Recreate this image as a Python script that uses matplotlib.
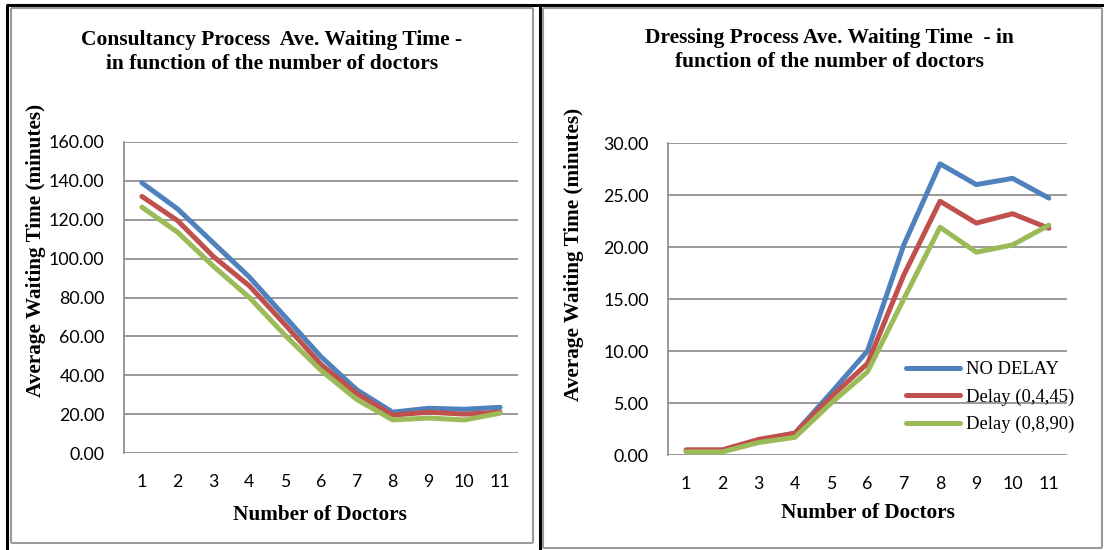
import matplotlib
matplotlib.use("Agg")
import matplotlib.pyplot as plt
from matplotlib.lines import Line2D

# number of doctors
doctors = [1, 2, 3, 4, 5, 6, 7, 8, 9, 10, 11]

# consultancy process ave. waiting time (minutes)
cons_no_delay = [139, 125.5, 108, 90.5, 70, 49.5, 32.5, 21, 23, 22.5, 23.5]
cons_delay_45 = [132, 119.5, 101, 86, 66, 45.5, 30.5, 19.5, 21, 20, 21]
cons_delay_90 = [126.5, 113.5, 96, 80, 60.5, 42.5, 27.5, 17, 18, 17, 20.5]

# dressing process ave. waiting time (minutes)
dress_no_delay = [0.4, 0.4, 1.4, 2.1, 6.0, 10.0, 20.2, 28.0, 26.0, 26.6, 24.7]
dress_delay_45 = [0.5, 0.5, 1.5, 2.1, 5.6, 8.8, 17.3, 24.4, 22.3, 23.2, 21.8]
dress_delay_90 = [0.3, 0.3, 1.2, 1.7, 5.0, 8.0, 15.0, 21.9, 19.5, 20.2, 22.1]

series_labels = ["NO DELAY", "Delay (0,4,45)", "Delay (0,8,90)"]
colors = ["#4F81BD", "#C0504D", "#9BBB59"]

W, H = 1104, 550
fig = plt.figure(figsize=(W / 100, H / 100), dpi=100)
fig.patch.set_facecolor("white")


def fx(px):
    return px / W


def fy(py):
    return 1 - py / H


def hline(x0, x1, y, color, lw):
    fig.add_artist(Line2D([fx(x0), fx(x1)], [fy(y), fy(y)], color=color, lw=lw,
                          transform=fig.transFigure, solid_capstyle="butt"))


def vline(x, y0, y1, color, lw):
    fig.add_artist(Line2D([fx(x), fx(x)], [fy(y0), fy(y1)], color=color, lw=lw,
                          transform=fig.transFigure, solid_capstyle="butt"))


# page frame (black) and chart borders (gray)
hline(6, 1104, 5, "black", 2.2)
vline(7, 5, 550, "black", 2.2)
vline(540, 5, 550, "black", 2.2)
gray = "#9a9a9a"
for (l, t, r, b) in [(11, 8, 533, 543), (543, 8, 1102, 548)]:
    hline(l, r, t, gray, 1.5)
    hline(l, r, b, gray, 1.5)
    vline(l, t, b, gray, 1.5)
    vline(r, t, b, gray, 1.5)

tick_font = "Lato"
serif = "Liberation Serif"


def make_axes(left, top, right, bottom, ymax, step, data):
    ax = fig.add_axes([fx(left), fy(bottom), fx(right - left), (bottom - top) / H])
    for vals, c, lab in zip(data, colors, series_labels):
        ax.plot(doctors, vals, color=c, lw=3.6, label=lab, solid_capstyle="round",
                solid_joinstyle="round", zorder=3)
    ax.set_xlim(0.5, 11.5)
    ax.set_ylim(0, ymax)
    ax.set_yticks([i * step for i in range(int(ymax / step) + 1)])
    ax.set_xticks(doctors)
    ax.yaxis.set_major_formatter(matplotlib.ticker.FormatStrFormatter("%.2f"))
    ax.grid(axis="y", color="#888888", lw=1.2)
    ax.set_axisbelow(True)
    for s in ["top", "right", "bottom"]:
        ax.spines[s].set_visible(False)
    ax.spines["left"].set_color("#888888")
    ax.spines["left"].set_linewidth(1.2)
    ax.tick_params(length=0)
    ax.tick_params(axis="y", pad=14)
    ax.tick_params(axis="x", pad=15)
    for lbl in ax.get_xticklabels() + ax.get_yticklabels():
        lbl.set_fontfamily(tick_font)
        lbl.set_fontsize(12.8)
    return ax


ax1 = make_axes(124, 142, 518, 453, 160, 20, [cons_no_delay, cons_delay_45, cons_delay_90])
ax2 = make_axes(668, 143, 1067, 455, 30, 5, [dress_no_delay, dress_delay_45, dress_delay_90])

title_kw = dict(ha="center", va="center", fontfamily=serif, fontweight="bold",
                fontsize=15.5, linespacing=1.28)
fig.text(fx(272), fy(52), "Consultancy Process  Ave. Waiting Time -\nin function of the number of doctors",
         **title_kw)
fig.text(fx(829), fy(50), "Dressing Process Ave. Waiting Time  - in\nfunction of the number of doctors",
         **title_kw)

lab_kw = dict(ha="center", va="center", fontfamily=serif, fontweight="bold", fontsize=15.3)
fig.text(fx(36), fy(250), "Average Waiting Time (minutes)", rotation=90, **lab_kw)
fig.text(fx(574), fy(254), "Average Waiting Time (minutes)", rotation=90, **lab_kw)
fig.text(fx(320), fy(515), "Number of Doctors", **lab_kw)
fig.text(fx(868), fy(513), "Number of Doctors", **lab_kw)

ax2.legend(loc="upper left", bbox_to_anchor=(fx(906), fy(361)), bbox_transform=fig.transFigure,
           frameon=False, prop={"family": serif, "size": 13.4}, handlelength=2.9,
           handletextpad=0.3, labelspacing=0.55, borderaxespad=0, borderpad=0)

fig.savefig("out.png", dpi=100)
